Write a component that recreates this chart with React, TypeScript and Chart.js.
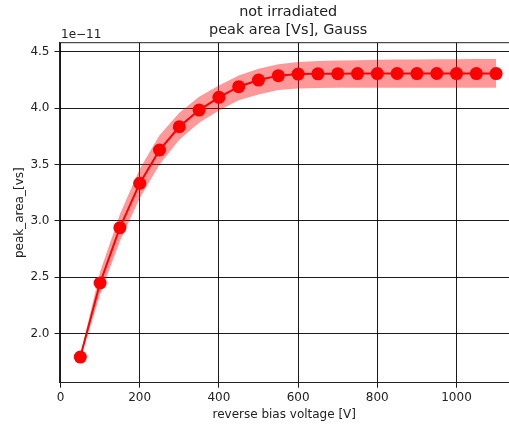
import { useEffect, useRef } from 'react';
import { Chart, registerables } from 'chart.js';

Chart.register(...registerables);

// Reverse bias scan, peak area in units of 1e-11 Vs
const voltages = [50, 100, 150, 200, 250, 300, 350, 400, 450, 500, 550, 600, 650, 700, 750, 800, 850, 900, 950, 1000, 1050, 1100];
const peakArea = [1.793, 2.45, 2.94, 3.333, 3.629, 3.835, 3.983, 4.096, 4.19, 4.249, 4.288, 4.302, 4.304, 4.305, 4.306, 4.306, 4.307, 4.306, 4.307, 4.306, 4.306, 4.306];
const bandUpper = [1.81, 2.55, 3.06, 3.46, 3.76, 3.96, 4.1, 4.2, 4.29, 4.35, 4.39, 4.41, 4.418, 4.422, 4.425, 4.428, 4.43, 4.432, 4.433, 4.434, 4.435, 4.435];
const bandLower = [1.775, 2.35, 2.82, 3.2, 3.5, 3.72, 3.87, 3.98, 4.07, 4.12, 4.16, 4.175, 4.178, 4.18, 4.18, 4.181, 4.181, 4.181, 4.181, 4.181, 4.181, 4.181];

const titleLines = ['not irradiated', 'peak area [Vs], Gauss'];
const offsetLabel = '1e\u221211';
const xLabel = 'reverse bias voltage [V]';
const yLabel = 'peak_area_[vs]';

const FONT = 'DejaVu Sans';
const TEXT = '#222';

const xMin = -2.5;
const xAxisEnd = 1152.5;

const frameAndTitle = {
  id: 'frameAndTitle',
  afterDraw(chart: any) {
    const { ctx, chartArea } = chart;
    const xs = chart.scales.x;
    ctx.save();
    ctx.strokeStyle = TEXT;
    ctx.lineWidth = 1;
    ctx.beginPath();
    ctx.moveTo(chartArea.left, chartArea.top);
    ctx.lineTo(chartArea.right, chartArea.top);
    ctx.stroke();

    ctx.fillStyle = TEXT;
    ctx.font = `14.4px "${FONT}"`;
    ctx.textAlign = 'center';
    ctx.textBaseline = 'middle';
    const cx = xs.getPixelForValue((xMin + xAxisEnd) / 2);
    titleLines.forEach((t, i) => ctx.fillText(t, cx, 12.7 + i * 17.3));

    ctx.font = `12px "${FONT}"`;
    ctx.textAlign = 'left';
    ctx.fillText(offsetLabel, chartArea.left + 1.5, 34.7);
    ctx.restore();
  },
};

export default function App() {
  const ref = useRef<HTMLCanvasElement>(null);

  useEffect(() => {
    if (!ref.current) return;
    const chart = new Chart(ref.current, {
      type: 'line',
      data: {
        datasets: [
          {
            label: 'peak area',
            data: voltages.map((v, i) => ({ x: v, y: peakArea[i] })),
            borderColor: '#ff0000',
            borderWidth: 2,
            pointRadius: 6.5,
            pointBackgroundColor: '#ff0000',
            pointBorderWidth: 0,
            tension: 0,
            fill: false,
            order: 0,
          },
          {
            label: 'upper',
            data: voltages.map((v, i) => ({ x: v, y: bandUpper[i] })),
            borderWidth: 0,
            borderColor: 'rgba(0,0,0,0)',
            pointRadius: 0,
            fill: false,
            tension: 0,
            order: 2,
          },
          {
            label: 'lower',
            data: voltages.map((v, i) => ({ x: v, y: bandLower[i] })),
            borderWidth: 0,
            borderColor: 'rgba(0,0,0,0)',
            backgroundColor: 'rgba(255,0,0,0.4)',
            pointRadius: 0,
            fill: '-1',
            tension: 0,
            order: 1,
          },
        ],
      },
      options: {
        animation: false,
        responsive: false,
        devicePixelRatio: 1,
        layout: { autoPadding: false, padding: { top: 42.7, left: 0, right: 0, bottom: 0 } },
        plugins: {
          legend: { display: false },
          tooltip: { enabled: false },
          title: { display: false },
        },
        scales: {
          x: {
            type: 'linear',
            min: xMin,
            max: 1132.6,
            ticks: {
              stepSize: 200,
              includeBounds: false,
              padding: 3,
              color: TEXT,
              font: { family: FONT, size: 12 },
              callback: (v: any) => String(v),
            },
            grid: { color: '#000', lineWidth: 0.9, tickLength: 5, drawTicks: true },
            border: { color: TEXT, width: 1 },
            title: {
              display: true,
              text: xLabel,
              color: TEXT,
              font: { family: FONT, size: 12 },
              padding: { top: 0, bottom: 4.8 },
            },
            afterFit: (s: any) => {
              s.height = 44.3;
            },
          },
          y: {
            type: 'linear',
            min: 1.566,
            max: 4.58,
            ticks: {
              stepSize: 0.5,
              includeBounds: false,
              padding: 5,
              color: TEXT,
              font: { family: FONT, size: 12 },
              callback: (v: any) => Number(v).toFixed(1),
            },
            grid: { color: '#000', lineWidth: 0.9, tickLength: 5, drawTicks: true },
            border: { color: TEXT, width: 1 },
            title: {
              display: true,
              text: yLabel,
              color: TEXT,
              font: { family: FONT, size: 12 },
              padding: { top: 12.8, bottom: 0 },
            },
            afterFit: (s: any) => {
              s.width = 59.5;
            },
          },
        },
      },
      plugins: [frameAndTitle],
    });
    return () => chart.destroy();
  }, []);

  return (
    <div style={{ position: 'fixed', left: 0, top: 0, width: 509, height: 427, background: '#fff' }}>
      <canvas ref={ref} width={509} height={427} />
    </div>
  );
}
